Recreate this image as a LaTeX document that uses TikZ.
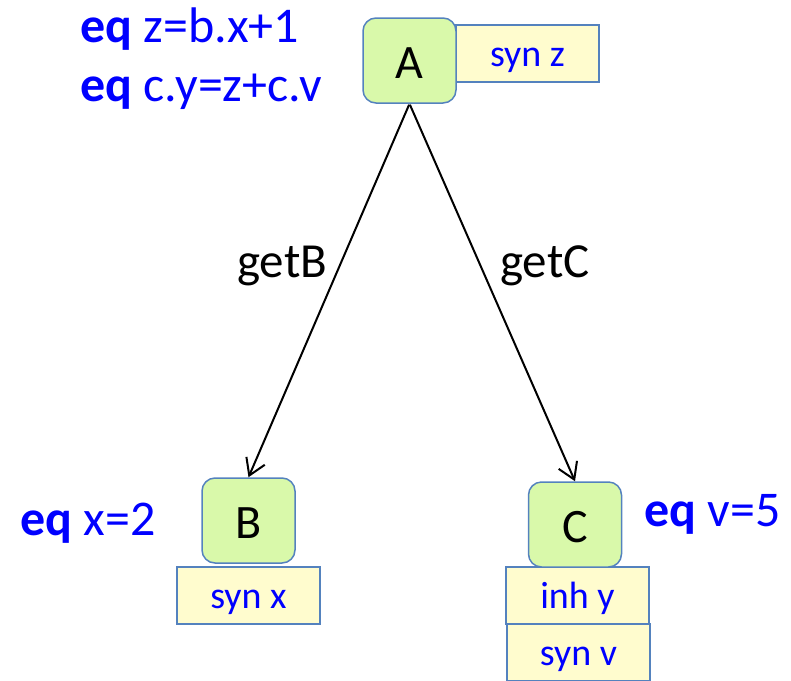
\documentclass[tikz,border=0pt]{standalone}
\usepackage{fontspec}
\setmainfont{Carlito}
\usetikzlibrary{arrows.meta}
\definecolor{nodegreen}{RGB}{217,249,170}
\definecolor{edgeblue}{RGB}{84,130,190}
\definecolor{attryellow}{RGB}{255,252,206}
\definecolor{eqblue}{RGB}{0,0,255}
\begin{document}
\begin{tikzpicture}[x=1pt,y=-1pt,
  treenode/.style={draw=edgeblue, line width=1.5pt, fill=nodegreen, rounded corners=13pt,
    minimum width=93pt, minimum height=85pt, inner sep=0pt, text height=35pt, text depth=0pt,
    font=\fontsize{48}{56}\selectfont},
  attrbox/.style={draw=edgeblue, line width=1.5pt, fill=attryellow, minimum width=143pt,
    minimum height=57pt, inner sep=0pt, text height=25pt, text depth=0pt, text=eqblue,
    font=\fontsize{38}{44}\selectfont},
  eqtext/.style={text=eqblue, font=\fontsize{50}{56}\selectfont, anchor=base west, inner sep=0pt},
  edgelabel/.style={font=\fontsize{49}{56}\selectfont, anchor=base west, inner sep=0pt},
  treeedge/.style={-{Straight Barb[length=16pt,width=20pt,line width=2pt]}, line width=2pt, shorten <=1pt}
]
\useasboundingbox (0,0) rectangle (791,680);
% attribute boxes
\node[attrbox] (synz) at (527.5,53.5) {syn z};
\node[attrbox] (synx) at (248.5,595.5) {syn x};
\node[attrbox] (inhy) at (577.5,595.5) {inh y};
\node[attrbox] (synv) at (578.5,652.5) {syn v};
% tree nodes
\node[treenode] (A) at (409.5,60.5) {A};
\node[treenode] (B) at (248.5,520.5) {B};
\node[treenode] (C) at (575,524.5) {C};
% edges
\draw[treeedge] (A.south) -- (B.north);
\draw[treeedge] (A.south) -- (C.north);
\node[edgelabel] (lb) at (237,277) {getB};
\node[edgelabel] (lc) at (500,277) {getC};
% equations
\node[eqtext] (eq1) at (80,42) {\textbf{eq} z=b.x+1};
\node[eqtext] (eq2) at (80,101) {\textbf{eq} c.y=z+c.v};
\node[eqtext] (eq3) at (20,535) {\textbf{eq} x=2};
\node[eqtext] (eq4) at (644,526) {\textbf{eq} v=5};
\end{tikzpicture}
\end{document}
